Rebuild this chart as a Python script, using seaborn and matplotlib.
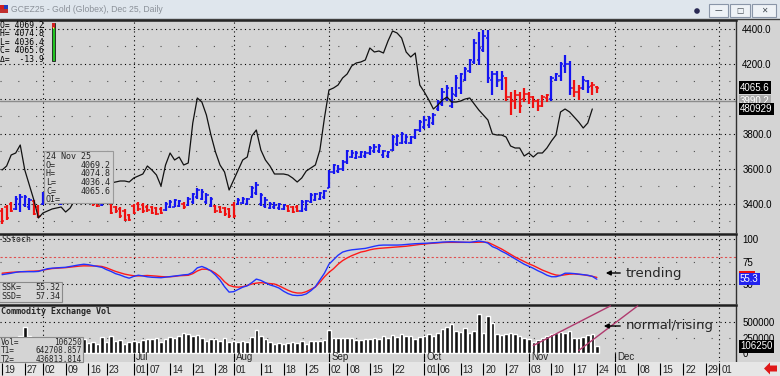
"""GCEZ25 黄金日线图：OHLC + 持仓量 + SStoch + 成交量"""
import numpy as np
import pandas as pd
import matplotlib
matplotlib.use("Agg")
import matplotlib.pyplot as plt
import matplotlib.transforms as mtransforms
from matplotlib.patches import Rectangle, Polygon, Circle
import seaborn as sns

W, H = 780, 376
BG = "#d4d4d4"
BLUE = "#1414f0"
RED = "#f01010"

# 交易日（剔除假日）
holidays = ["2025-05-26", "2025-06-19", "2025-07-04", "2025-09-01", "2025-11-27"]
sessions = pd.bdate_range("2025-05-19", "2026-01-09")
sessions = sessions[~sessions.isin(pd.to_datetime(holidays))]

opens = [3360, 3385, 3402, 3372, 3400, 3395, 3380, 3415, 3385, 3400,
         3410, 3460, 3440, 3400, 3410, 3420, 3430, 3455, 3430, 3415,
         3435, 3410, 3395, 3405, 3400, 3380, 3370, 3360, 3335, 3390,
         3400, 3395, 3385, 3380, 3375, 3370, 3365, 3380, 3385, 3390,
         3400, 3395, 3410, 3440, 3430, 3410, 3390, 3390, 3385, 3375,
         3370, 3395, 3400, 3405, 3400, 3440, 3460, 3400, 3390, 3375,
         3380, 3375, 3372, 3390, 3380, 3385, 3360, 3370, 3410, 3420,
         3430, 3440, 3490, 3580, 3590, 3600, 3640, 3670, 3665, 3670,
         3675, 3690, 3700, 3700, 3680, 3675, 3710, 3740, 3750, 3755,
         3750, 3780, 3820, 3840, 3850, 3860, 3940, 3970, 4000, 3960,
         4020, 4060, 4110, 4160, 4210, 4220, 4280, 4350, 4110, 4140,
         4110, 4120, 4010, 3990, 4020, 4000, 4030, 4010, 3990, 3960,
         4005, 4000, 4110, 4130, 4190, 4200, 4060, 4040, 4060, 4100,
         4075, 4069.2]
highs = [3377, 3394, 3411, 3446, 3457, 3451, 3434, 3423, 3394, 3469,
         3480, 3470, 3450, 3470, 3490, 3500, 3480, 3460, 3440, 3450,
         3440, 3420, 3430, 3440, 3410, 3390, 3380, 3370, 3340, 3400,
         3410, 3405, 3395, 3390, 3385, 3380, 3410, 3420, 3430, 3425,
         3410, 3440, 3465, 3490, 3485, 3460, 3440, 3395, 3390, 3380,
         3375, 3411, 3434, 3440, 3436, 3500, 3526, 3463, 3440, 3411,
         3410, 3405, 3400, 3394, 3388, 3392, 3420, 3423, 3460, 3465,
         3470, 3480, 3594, 3630, 3620, 3650, 3710, 3710, 3700, 3705,
         3705, 3730, 3740, 3745, 3709, 3705, 3794, 3800, 3810, 3800,
         3790, 3830, 3880, 3900, 3905, 3920, 3994, 4060, 4080, 4070,
         4137, 4150, 4180, 4230, 4340, 4383, 4394, 4394, 4160, 4160,
         4160, 4125, 4040, 4050, 4040, 4060, 4040, 4015, 4000, 4020,
         4030, 4130, 4150, 4210, 4250, 4215, 4110, 4080, 4130, 4110,
         4095, 4074.8]
lows = [3286, 3309, 3354, 3366, 3354, 3383, 3366, 3337, 3320, 3394,
        3400, 3420, 3400, 3395, 3400, 3410, 3420, 3400, 3400, 3410,
        3390, 3380, 3390, 3400, 3340, 3350, 3320, 3300, 3300, 3340,
        3360, 3350, 3355, 3340, 3335, 3340, 3360, 3375, 3380, 3385,
        3370, 3390, 3400, 3430, 3420, 3400, 3380, 3350, 3350, 3330,
        3320, 3320, 3395, 3400, 3394, 3434, 3450, 3390, 3377, 3370,
        3370, 3366, 3366, 3355, 3349, 3352, 3354, 3360, 3405, 3415,
        3420, 3430, 3490, 3570, 3575, 3590, 3630, 3660, 3655, 3660,
        3665, 3680, 3690, 3690, 3663, 3665, 3705, 3730, 3745, 3740,
        3740, 3770, 3810, 3830, 3835, 3850, 3930, 3960, 3990, 3950,
        4011, 4030, 4100, 4150, 4200, 4194, 4270, 4091, 4020, 4070,
        4050, 3990, 3910, 3940, 3920, 3980, 3970, 3950, 3930, 3955,
        3985, 3990, 4100, 4100, 4150, 4020, 4010, 3994, 4050, 4035,
        4020, 4036.4]
closes = [3300, 3322, 3362, 3430, 3440, 3440, 3420, 3345, 3330, 3460,
          3470, 3430, 3410, 3460, 3480, 3490, 3470, 3410, 3410, 3440,
          3400, 3390, 3420, 3430, 3350, 3360, 3330, 3310, 3310, 3350,
          3370, 3360, 3365, 3350, 3345, 3350, 3400, 3410, 3420, 3415,
          3380, 3430, 3455, 3480, 3470, 3450, 3430, 3360, 3355, 3340,
          3330, 3330, 3425, 3430, 3428, 3490, 3510, 3450, 3420, 3400,
          3395, 3398, 3392, 3362, 3355, 3360, 3410, 3415, 3450, 3455,
          3460, 3475, 3580, 3620, 3600, 3640, 3700, 3690, 3690, 3695,
          3690, 3720, 3725, 3730, 3700, 3695, 3780, 3790, 3800, 3785,
          3780, 3820, 3870, 3880, 3890, 3910, 3980, 4040, 4060, 4030,
          4120, 4140, 4170, 4220, 4320, 4290, 4360, 4120, 4140, 4110,
          4130, 4010, 3990, 4020, 3960, 4030, 4010, 3990, 3960, 4010,
          4020, 4120, 4140, 4200, 4200, 4060, 4040, 4060, 4110, 4070,
          4079.5, 4065.6]
# 趋势着色：b=蓝 r=红
paint = ("rrrbbbbrrbbbbbbbbrrbrrbb" "rrrrrrrrrrrr" "bbbbrbbbbbbrrrrr"
         "bbbbbbbbbbbrrr" + "b" * 45 + "rrrrrrrrrr" "bbbbbrrbbrr")
ref_level = 3990.2

# 持仓量（千手）
open_int = [432.1, 435.3, 444.1, 445.7, 452.1, 432.1, 420.1, 408.1, 393.7, 397.7,
            399.3, 400.9, 401.7, 402.5, 398.5, 401.7, 408.1, 412.1, 416.1, 417.7,
            419.3, 420.1, 420.9, 420.9, 421.7, 422.5, 423.3, 423.3, 422.5, 425.7,
            427.3, 428.9, 435.3, 432.1, 428.1, 419.3, 436.1, 445.7, 440.1, 442.5,
            436.1, 437.7, 469.7, 489.7, 486.5, 476.1, 460.1, 446.5, 436.1, 430.5,
            416.1, 424.1, 432.1, 440.1, 442.5, 459.3, 464.1, 448.1, 440.1, 435.3,
            428.9, 428.9, 428.9, 428.1, 425.7, 422.5, 425.7, 431.3, 433.7, 436.1,
            448.1, 473.7, 496.1, 497.7, 500.1, 505.7, 508.9, 515.3, 517.7, 518.5,
            520.1, 529.7, 526.5, 527.3, 525.7, 535.3, 543.3, 541.7, 537.7, 526.5,
            522.5, 525.7, 500.1, 494.5, 488.1, 480.9, 484.1, 488.1, 490.5, 486.5,
            486.5, 487.3, 488.9, 489.7, 484.9, 480.1, 476.1, 472.1, 460.9, 460.1,
            460.1, 458.5, 451.3, 449.7, 449.7, 443.3, 445.7, 442.5, 445.7, 445.7,
            449.7, 455.3, 460.1, 478.5, 480.9, 478.5, 474.5, 470.5, 465.7, 469.7,
            480.929]

ssk = [60.4, 61.2, 62, 63, 63.7, 63.7, 63.7, 63.7, 64, 65.5,
       67, 67.6, 68, 68.3, 68.6, 69.5, 70.5, 71.3, 72, 71.5,
       70.5, 69.6, 68.5, 66, 64, 61.5, 60, 58, 56.5, 58.5,
       59.8, 59, 58, 57.5, 57.2, 57, 57.6, 58.3, 58.9, 59.5,
       60.2, 60.6, 63, 68, 69.5, 67.5, 64.5, 60, 54.4, 47,
       41, 41.5, 44, 46.5, 48, 51.5, 55.5, 54, 51.5, 49,
       47.5, 45.5, 42, 39.3, 37.6, 37.2, 37.5, 39, 42.5, 47,
       54.4, 62, 72, 77, 82, 85.5, 87, 88, 88.5, 89,
       89.6, 90.8, 92, 93, 93.3, 93.3, 93.3, 93.3, 93.5, 94,
       94.4, 94.8, 95, 95.2, 95.5, 95.8, 96.2, 96.6, 96.8, 97,
       96.8, 96.5, 96.4, 96.3, 97, 97.8, 97, 95.5, 91.5, 89.5,
       86.5, 84, 81, 78, 75, 72, 69.8, 67.5, 64.8, 62.5,
       59.8, 58.1, 58.1, 59.5, 62, 62, 61.6, 61, 60.5, 59.8,
       58.5, 55.32]
ssd = [62, 62.5, 63, 63.3, 63.6, 64, 64.2, 64.3, 64.6, 65.5,
       66.5, 67.2, 67.6, 67.9, 68.2, 68.8, 69.4, 69.9, 70.2, 70.1,
       70, 70, 69.5, 68, 66, 64, 62.5, 61, 60, 59.2,
       59, 59.3, 59.5, 59.2, 58.8, 58.3, 58, 58, 58.5, 59.2,
       59.5, 59.7, 61.5, 64.5, 66.5, 66.5, 65, 62, 58, 52.5,
       48.5, 47, 46.5, 47, 48.5, 50, 51, 51.5, 51, 50.5,
       50, 48, 45.5, 43, 41, 40, 40, 41.5, 44, 46.7,
       52, 58, 63, 67, 72, 76, 79, 81.5, 83.5, 85.5,
       86.5, 88, 89, 89.6, 90, 90.3, 90.8, 91.2, 91.5, 92,
       92.6, 93.3, 94, 94.4, 95, 95.4, 95.8, 96.1, 96.3, 96.3,
       96.3, 96.3, 96.3, 96.3, 96.3, 96.5, 96.6, 96.3, 94, 91.5,
       89, 86, 83, 80, 77.5, 75, 72.5, 70.5, 68, 65.5,
       63.5, 61.5, 60, 59.5, 60.2, 61, 61.2, 60.8, 60.3, 59.5,
       58.6, 57.34]

# 成交量（千手）
volume = [120, 110, 140, 250, 280, 420, 270, 150, 140, 160,
          150, 170, 140, 160, 150, 180, 160, 170, 230, 160,
          180, 140, 260, 170, 270, 200, 210, 150, 170, 200,
          170, 210, 230, 220, 250, 180, 220, 260, 240, 280,
          320, 300, 280, 290, 250, 200, 230, 230, 190, 250,
          180, 200, 180, 200, 170, 260, 370, 280, 220, 180,
          150, 160, 150, 160, 170, 160, 190, 150, 200, 190,
          200, 210, 370, 240, 250, 250, 240, 240, 210, 210,
          230, 220, 240, 230, 270, 250, 290, 260, 300, 280,
          270, 230, 260, 280, 310, 280, 330, 390, 420, 470,
          360, 340, 400, 330, 360, 630, 330, 600, 480, 300,
          290, 310, 330, 310, 280, 250, 230, 180, 210, 250,
          280, 300, 320, 340, 330, 350, 240, 250, 260, 290,
          310, 106.25]

tick_dates = ["2025-05-19", "2025-05-27", "2025-06-02", "2025-06-09", "2025-06-16",
              "2025-06-23", "2025-07-01", "2025-07-07", "2025-07-14", "2025-07-21",
              "2025-07-28", "2025-08-01", "2025-08-11", "2025-08-18", "2025-08-25",
              "2025-09-02", "2025-09-08", "2025-09-15", "2025-09-22", "2025-10-01",
              "2025-10-06", "2025-10-13", "2025-10-20", "2025-10-27", "2025-11-03",
              "2025-11-10", "2025-11-17", "2025-11-24", "2025-12-01", "2025-12-08",
              "2025-12-15", "2025-12-22", "2025-12-29", "2026-01-01"]
month_dates = ["2025-07-01", "2025-08-01", "2025-09-02", "2025-10-01", "2025-11-03", "2025-12-01"]
grid_dates = ["2025-06-02"] + month_dates + ["2026-01-01"]
# 成交量面板上的手绘趋势线 (日期, 成交量千手)
trend_lines = [(("2025-11-04", 120), ("2025-11-28", 760)),
               (("2025-11-18", 40), ("2025-12-08", 760))]


def slot(d):
    return sessions.get_loc(pd.Timestamp(d))


sns.set_style("white")
plt.rcParams["font.family"] = ["Liberation Sans", "DejaVu Sans"]
plt.rcParams["axes.unicode_minus"] = False

fig = plt.figure(figsize=(W / 100, H / 100), dpi=100, facecolor=BG)


def px_axes(x0, y0, x1, y1, **kw):
    return fig.add_axes([x0 / W, 1 - y1 / H, (x1 - x0) / W, (y1 - y0) / H], **kw)


XL = (-0.46, 161.65)
DENSE = (0, (1, 3))
SPARSE = (0, (1, 15))


def base_panel(ax):
    ax.set_facecolor(BG)
    ax.set_xlim(XL)
    ax.set_xticks([])
    for s in ["left", "bottom"]:
        ax.spines[s].set_visible(False)
    ax.spines["top"].set_linewidth(1.8)
    ax.spines["top"].set_color("#202020")
    ax.spines["right"].set_linewidth(1.0)
    ax.spines["right"].set_color("#303030")
    for d in grid_dates:
        ax.axvline(slot(d), color="black", lw=0.8, ls=DENSE, zorder=0.5)
    ax.yaxis.tick_right()
    ax.tick_params(axis="y", length=0, pad=4.5, labelsize=7, colors="black")


def value_box(ax, val, text, fc, tc="white"):
    tr = mtransforms.blended_transform_factory(ax.transAxes, ax.transData)
    ax.text(1.0 + 4 / 736, val, text, transform=tr, ha="left", va="center", fontsize=7,
            color=tc, bbox=dict(boxstyle="square,pad=0.12", fc=fc, ec="none"),
            clip_on=False, zorder=10)


# ---- 主图 ----
ax = px_axes(0, 20, 736, 232)
base_panel(ax)
ax.set_ylim(3240, 4451.4)
for v in [3400, 3600, 3800, 4000, 4200, 4400]:
    ax.axhline(v, color="black", lw=0.8, ls=DENSE, zorder=0.5)
for v in [3300, 3500, 3700, 3900, 4100, 4300]:
    ax.axhline(v, color="#505050", lw=0.8, ls=SPARSE, zorder=0.5)
ax.axhline(ref_level, color="#8c8c8c", lw=1.0, zorder=1)

x = np.arange(len(closes))
cols = np.where(np.array(list(paint)) == "b", BLUE, RED)
ax.vlines(x, lows, highs, colors=cols, lw=1.6, zorder=3)
ax.hlines(opens, x - 0.5, x, colors=cols, lw=1.1, zorder=3)
ax.hlines(closes, x, x + 0.5, colors=cols, lw=1.1, zorder=3)

ax2 = ax.twinx()
ax2.set_ylim(382.5, 552.1)
sns.lineplot(x=np.arange(len(open_int)), y=open_int, ax=ax2, color="#111111", lw=0.9)
ax2.set_yticks([])
for s in ax2.spines.values():
    s.set_visible(False)
ax2.set_xlim(XL)

ax.yaxis.tick_right()
ax.set_yticks([3400, 3600, 3800, 4200, 4400])
ax.set_yticklabels([f"{v:.1f}" for v in [3400, 3600, 3800, 4200, 4400]])
value_box(ax, closes[-1], f"{closes[-1]:.1f}", "black")
value_box(ax, ref_level, f"{ref_level:.1f}", "#a8a8a8")
tr2 = mtransforms.blended_transform_factory(ax2.transAxes, ax2.transData)
ax2.text(1.0 + 4 / 736, open_int[-1], f"{open_int[-1] * 1000:.0f}", transform=tr2, ha="left",
         va="center", fontsize=7, color="white", clip_on=False, zorder=10,
         bbox=dict(boxstyle="square,pad=0.12", fc="black", ec="none"))

# ---- SStoch ----
ax_s = px_axes(0, 234, 736, 303)
base_panel(ax_s)
ax_s.set_ylim(28.9, 105.6)
ax_s.axhline(100, color="black", lw=0.8, ls=DENSE, zorder=0.5)
ax_s.axhline(75, color="#505050", lw=0.8, ls=SPARSE, zorder=0.5)
ax_s.axhline(50, color="black", lw=0.8, ls=DENSE, zorder=0.5)
ax_s.axhline(80, color="#e05050", lw=0.8, ls=(0, (2, 2)), zorder=0.5)
sx = np.arange(len(ssk))
sns.lineplot(x=sx, y=ssd, ax=ax_s, color="#ff1a1a", lw=1.0)
sns.lineplot(x=sx, y=ssk, ax=ax_s, color="#2233ff", lw=1.0)
ax_s.set_yticks([50, 75, 100])
ax_s.set_yticklabels(["50", "75", "100"])
ax_s.set_xlabel("")
ax_s.set_ylabel("")
value_box(ax_s, ssd[-1], "     ", RED)
value_box(ax_s, ssk[-1], f"{ssk[-1]:.1f}", "#2222ee")

# ---- 成交量 ----
ax_v = px_axes(0, 305, 736, 362)
base_panel(ax_v)
ax_v.set_ylim(-145, 774)
ax_v.axhline(500, color="black", lw=0.8, ls=DENSE, zorder=0.5)
ax_v.axhline(250, color="#505050", lw=0.8, ls=SPARSE, zorder=0.5)
ax_v.bar(np.arange(len(volume)), volume, width=0.78, color="#111111", zorder=2)
ax_v.set_yticks([0, 250, 500])
ax_v.set_yticklabels(["0", "250000", "500000"])
value_box(ax_v, volume[-1], f"{volume[-1] * 1000:.0f}", "black")
for (d0, v0), (d1, v1) in trend_lines:
    ax_v.plot([slot(d0), slot(d1)], [v0, v1], color="#b03a6e", lw=1.0, zorder=4, clip_on=True)
ytr = ax_v.get_xaxis_transform()
for d in month_dates:
    s = slot(d)
    ax_v.vlines(s, 0.0, 0.16, color="black", lw=0.8, transform=ytr)
    ax_v.text(s + 0.5, 0.09, pd.Timestamp(d).strftime("%b"), transform=ytr,
              fontsize=7, va="center", ha="left")

# ---- 日期条 ----
ax_d = px_axes(0, 362, 780, 376)
ax_d.set_xlim(XL[0], XL[0] + (XL[1] - XL[0]) * 780 / 736)
ax_d.set_ylim(0, 1)
ax_d.axis("off")
ax_d.add_patch(Rectangle((0, 0), 1, 1, transform=ax_d.transAxes, fc="#e6e6e6", ec="none"))
for d in tick_dates:
    s = slot(d)
    ax_d.vlines(s, 0.1, 0.9, color="black", lw=0.8)
    ax_d.text(s + 0.45, 0.45, f"{pd.Timestamp(d).day:02d}", fontsize=7, va="center", ha="left")

# ---- 叠加层（标题栏、信息框、注释） ----
ov = fig.add_axes([0, 0, 1, 1], zorder=50)
ov.set_xlim(0, W)
ov.set_ylim(H, 0)
ov.axis("off")
ov.patch.set_alpha(0)

ov.add_patch(Rectangle((0, 0), W, 19, fc="#dfe6ed", ec="none"))
ov.plot([0, W], [19, 19], color="#404040", lw=1)
ov.add_patch(Rectangle((0, 5), 4, 4, fc="#d02020", ec="none"))
ov.add_patch(Rectangle((4, 5), 4, 4, fc="#2040c0", ec="none"))
ov.add_patch(Rectangle((0, 9), 8, 4, fc="#c03030", ec="none"))
ov.text(11, 10, "GCEZ25 - Gold (Globex), Dec 25, Daily", fontsize=6.2, color="#8a9098", va="center")
ov.add_patch(Circle((697, 11), 2.8, fc="#2a2a55", ec="none"))
for bx, bw, sym in [(709, 19, "—"), (730, 20, "□"), (752, 24, "✕")]:
    ov.add_patch(Rectangle((bx, 4), bw, 13, fc="#eef2f6", ec="#8a96a8", lw=0.8))
    ov.text(bx + bw / 2, 10.5, sym, fontsize=5.5, ha="center", va="center", color="#404850",
            family="DejaVu Sans")

mono = "DejaVu Sans Mono"
for i, row in enumerate(["O= 4069.2", "H= 4074.8", "L= 4036.4", "C= 4065.6", "Δ=  -13.9"]):
    ov.text(0.5, 25 + i * 8.6, row, fontsize=5.8, family=mono, va="center", color="black")
ov.add_patch(Rectangle((52, 23), 3, 38, fc="#22c322", ec="#1a1a1a", lw=0.6))
ov.add_patch(Rectangle((52, 23), 3, 5, fc="#d02020", ec="none"))
ov.add_patch(Rectangle((52.6, 27), 1.8, 2, fc="#f0e040", ec="none"))

ov.add_patch(Rectangle((44, 151), 69, 52, fc=BG, ec="#9a9a9a", lw=0.8))
info = [("24 Nov 25", ""), ("O=", "4069.2"), ("H=", "4074.8"), ("L=", "4036.4"),
        ("C=", "4065.6"), ("OI=", "")]
for i, (k, v) in enumerate(info):
    ov.text(46, 156.5 + i * 8.7, k, fontsize=6, family=mono, va="center")
    if v:
        ov.text(111, 156.5 + i * 8.7, v, fontsize=6, family=mono, va="center", ha="right")

ov.text(1, 240, "SStoch", fontsize=6, family=mono, va="center")
ov.add_patch(Rectangle((-1, 282), 63, 20, fc=BG, ec="#8a8a8a", lw=0.8))
ov.text(1, 287.5, "SSK=", fontsize=6, family=mono, va="center")
ov.text(60, 287.5, "55.32", fontsize=6, family=mono, va="center", ha="right")
ov.text(1, 296.5, "SSD=", fontsize=6, family=mono, va="center")
ov.text(60, 296.5, "57.34", fontsize=6, family=mono, va="center", ha="right")

ov.text(1, 311, "Commodity Exchange Vol", fontsize=6, family=mono, weight="bold", va="center")
ov.add_patch(Rectangle((-1, 337), 84, 25, fc=BG, ec="#8a8a8a", lw=0.8))
for i, (k, v) in enumerate([("Vol=", "106250"), ("T1=", "642708.857"), ("T2=", "436813.814")]):
    ov.text(1, 342.5 + i * 8.3, k, fontsize=5.6, family=mono, va="center")
    ov.text(82, 342.5 + i * 8.3, v, fontsize=5.6, family=mono, va="center", ha="right")

ov.annotate("", xy=(603, 273), xytext=(623, 273),
            arrowprops=dict(arrowstyle="-|>", color="black", lw=1.0, mutation_scale=7))
ov.text(626, 273, "trending", fontsize=9.5, va="center", ha="left", family="DejaVu Sans")
ov.annotate("", xy=(601, 326), xytext=(623, 326),
            arrowprops=dict(arrowstyle="-|>", color="black", lw=1.0, mutation_scale=7))
ov.text(626, 326, "normal/rising", fontsize=9.5, va="center", ha="left", family="DejaVu Sans")

ov.add_patch(Polygon([(764, 368.5), (770, 362.5), (770, 365.5), (777, 365.5),
                      (777, 371.5), (770, 371.5), (770, 374.5)], fc="#e01818", ec="none"))

fig.savefig("out.png", dpi=100, facecolor=BG)
